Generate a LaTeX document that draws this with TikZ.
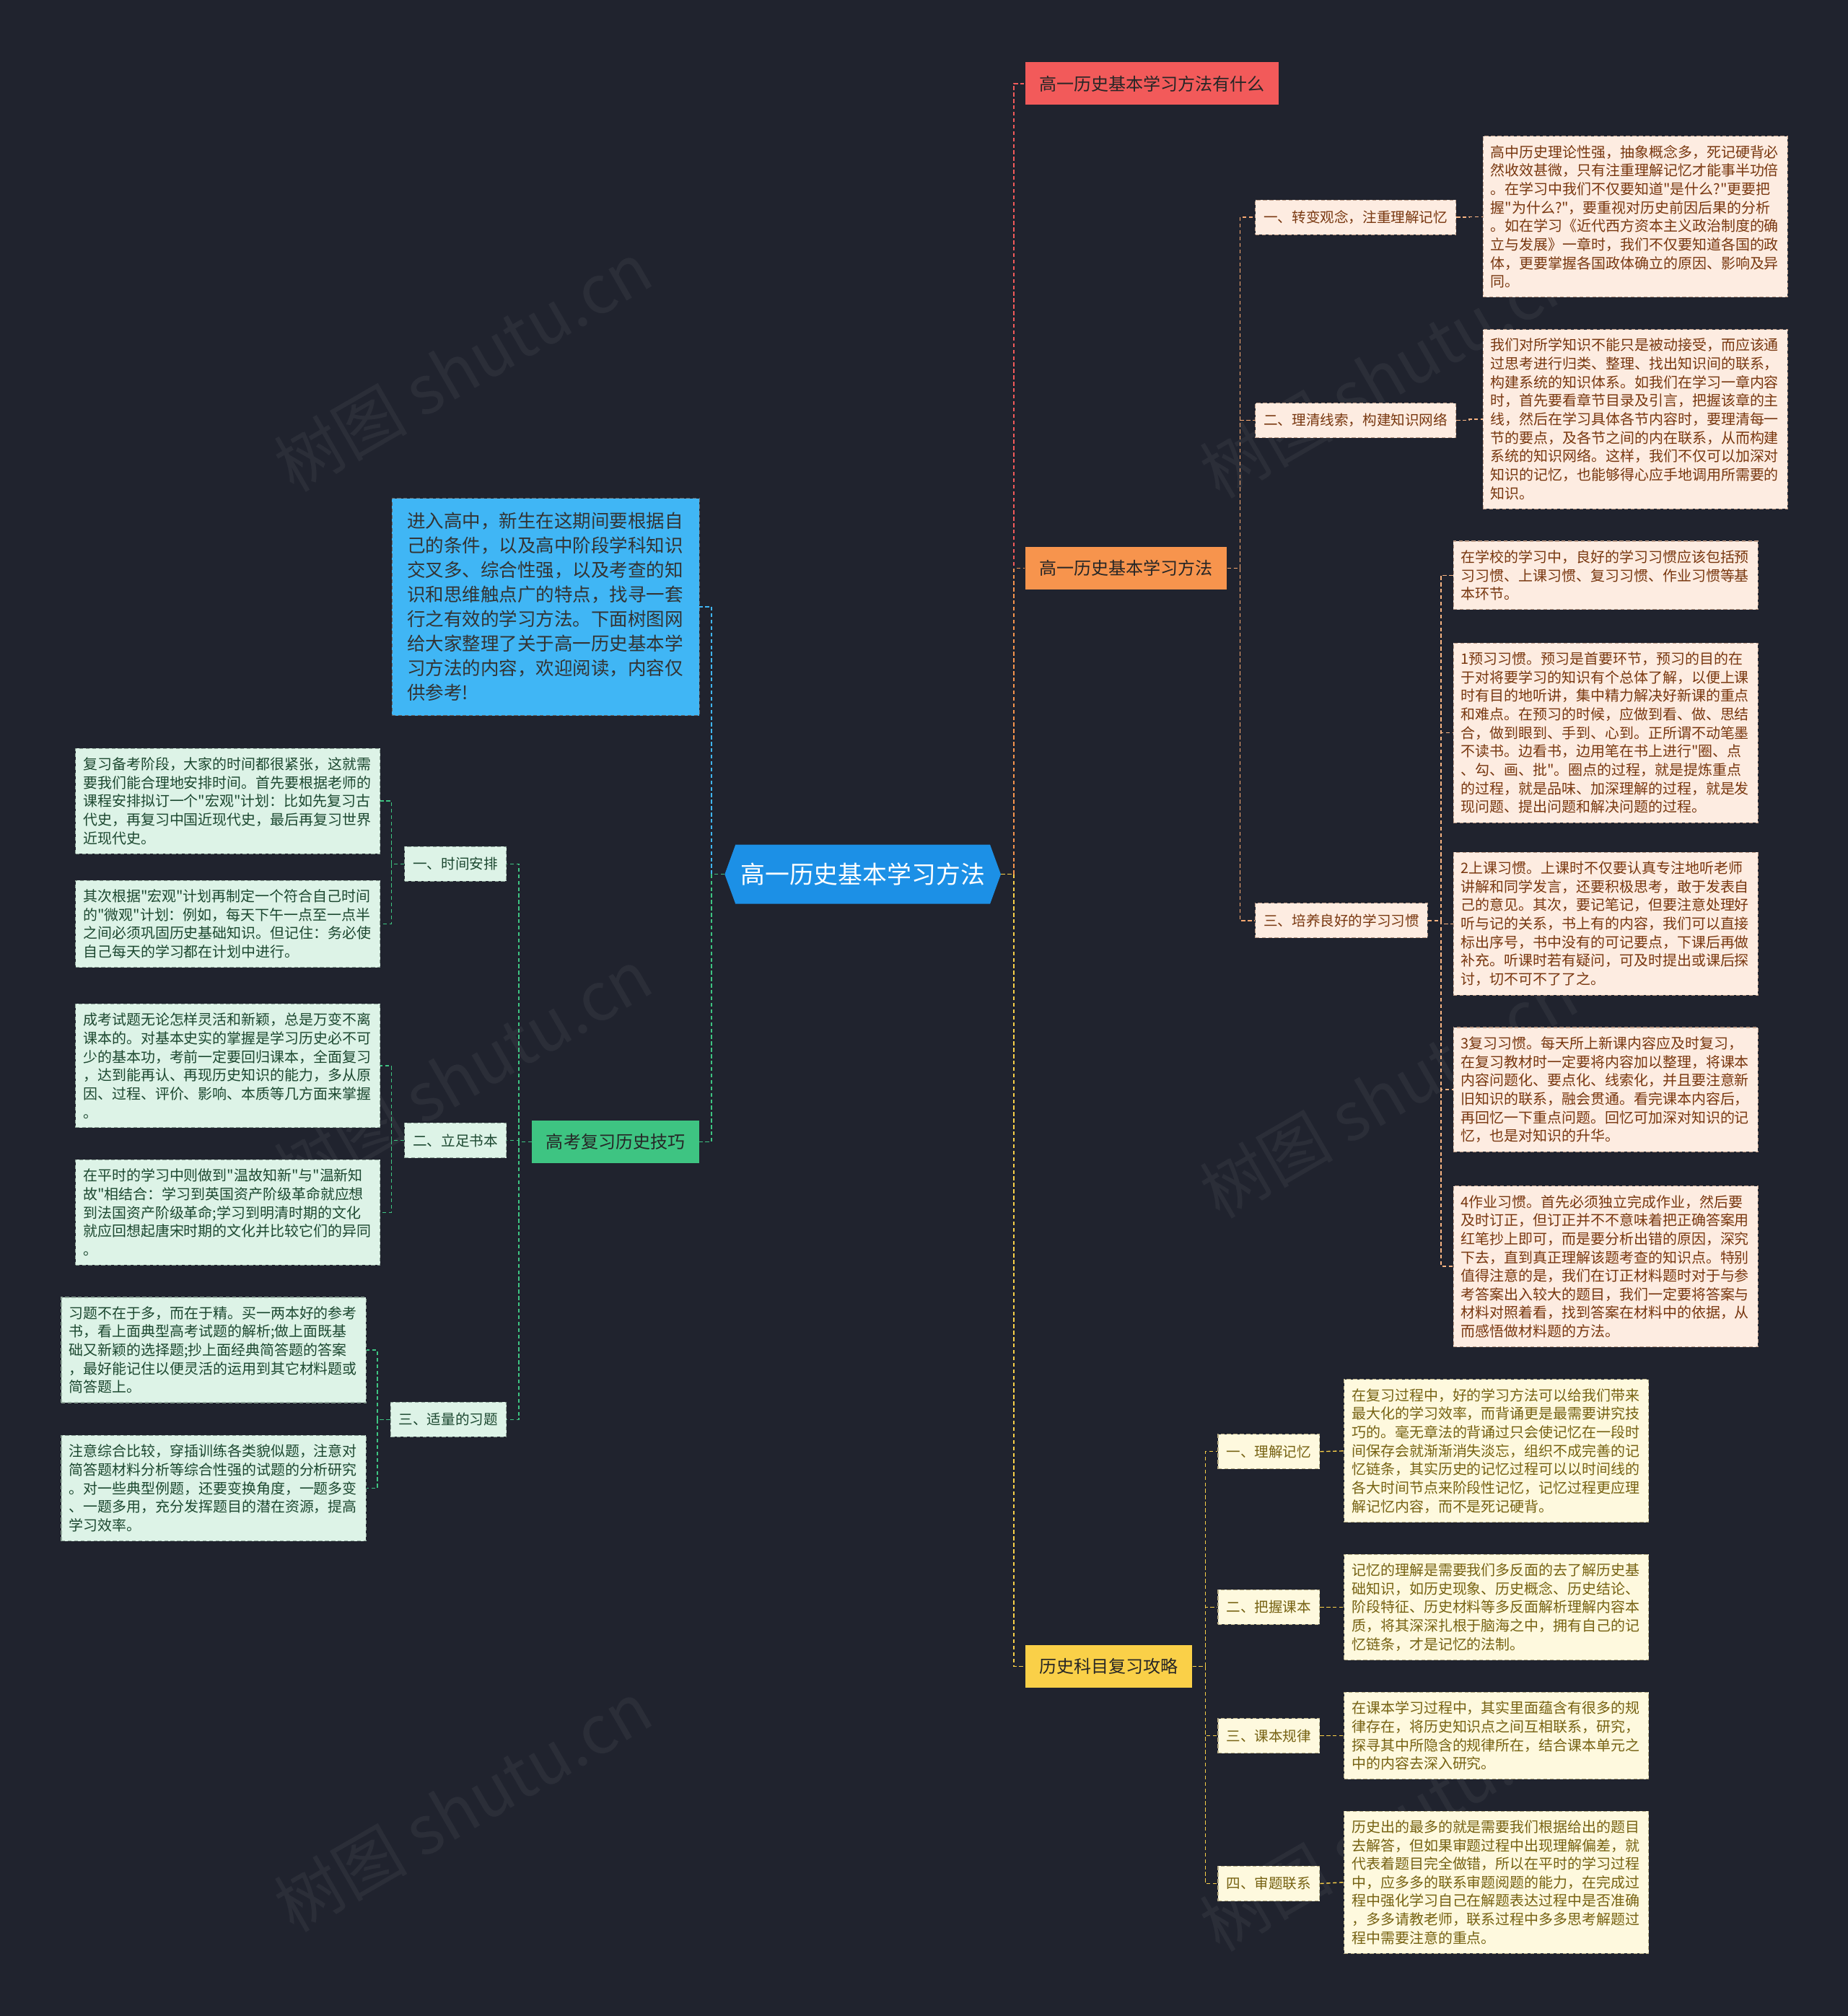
\documentclass[tikz,border=0pt]{standalone}
\usepackage{fontspec}
\setmainfont{Noto Sans CJK SC}[Ligatures=TeXOff]
\usepackage{xcolor}
\usetikzlibrary{shapes.symbols}
\definecolor{bgdark}{RGB}{32,35,46}
\definecolor{rootblue}{RGB}{28,144,230}
\definecolor{redmain}{RGB}{242,90,90}
\definecolor{orangemain}{RGB}{247,148,77}
\definecolor{yellowmain}{RGB}{250,208,72}
\definecolor{greenmain}{RGB}{62,196,130}
\definecolor{introblue}{RGB}{64,182,245}
\definecolor{peachfill}{RGB}{253,236,225}
\definecolor{peachtext}{RGB}{120,55,15}
\definecolor{creamfill}{RGB}{254,249,222}
\definecolor{creamtext}{RGB}{118,98,18}
\definecolor{mintfill}{RGB}{221,243,231}
\definecolor{minttext}{RGB}{28,72,48}

\begin{document}
\begin{tikzpicture}[x=1pt,y=-1pt,
  rootbox/.style={signal,signal to=west and east,signal pointer angle=140,fill=rootblue,
               text=white,minimum width=212pt,minimum height=46pt,inner xsep=4pt,
               font=\fontsize{19}{22}\selectfont},
  mainbox/.style={rectangle,minimum height=33pt,inner xsep=11pt,text=black!85,
               font=\fontsize{13.5}{16}\selectfont},
  subbox/.style={rectangle,minimum height=27pt,inner xsep=6.5pt,
               font=\fontsize{11}{13}\selectfont,draw,dash pattern=on 3pt off 2pt,line width=.6pt},
  leaf/.style={rectangle,text width=225pt,align=left,inner xsep=6pt,inner ysep=7pt,
               font=\fontsize{11.2}{14.4}\selectfont,draw,dash pattern=on 3pt off 2pt,line width=.6pt},
  peach/.style={fill=peachfill,text=peachtext,draw=peachtext!50},
  cream/.style={fill=creamfill,text=creamtext,draw=creamtext!50},
  mint/.style={fill=mintfill,text=minttext,draw=minttext!50},
  ln/.style={line width=.8pt,dash pattern=on 3pt off 2pt},
  wmark/.style={font=\fontsize{52}{52}\selectfont,text=white,opacity=.05,rotate=30}
]
\fill[bgdark] (0,0) rectangle (1437,1568);

% watermarks
\foreach \wx/\wy in {360/285,360/835,360/1405,1080/290,1080/850,1080/1420}
  \node[wmark] at (\wx,\wy) {树图 shutu.cn};

% centre
\node[rootbox] (root) at (671,680) {高一历史基本学习方法};

% main topics
\node[mainbox,fill=redmain,anchor=west] (q1) at (797,65) {高一历史基本学习方法有什么};
\node[mainbox,fill=orangemain,anchor=west] (q2) at (797,442) {高一历史基本学习方法};
\node[mainbox,fill=yellowmain,anchor=west] (q3) at (797,1296) {历史科目复习攻略};
\node[rectangle,fill=introblue,text=black!80,anchor=east,text width=215pt,align=left,
      inner xsep=12pt,inner ysep=11pt,draw=black!60,dash pattern=on 3pt off 2pt,
      font=\fontsize{14.3}{19.1}\selectfont] (intro) at (544,472)
  {进入高中，新生在这期间要根据自\\己的条件，以及高中阶段学科知识\\交叉多、综合性强，以及考查的知\\识和思维触点广的特点，找寻一套\\行之有效的学习方法。下面树图网\\给大家整理了关于高一历史基本学\\习方法的内容，欢迎阅读，内容仅\\供参考!};
\node[mainbox,fill=greenmain,anchor=east] (gn) at (544,888) {高考复习历史技巧};

\draw[ln,redmain] (root.east) -- ++(10,0) |- (q1.west);
\draw[ln,orangemain] (root.east) -- ++(10,0) |- (q2.west);
\draw[ln,yellowmain] (root.east) -- ++(10,0) |- (q3.west);
\draw[ln,introblue] (root.west) -- ++(-10,0) |- (intro.east);
\draw[ln,greenmain] (root.west) -- ++(-10,0) |- (gn.east);

% orange branch
\node[subbox,peach,anchor=west] (o1) at (976,169) {一、转变观念，注重理解记忆};
\node[subbox,peach,anchor=west] (o2) at (976,327) {二、理清线索，构建知识网络};
\node[subbox,peach,anchor=west] (o3) at (976,716) {三、培养良好的学习习惯};
\foreach \s in {o1,o2,o3}
  \draw[ln,orangemain!80] (q2.east) -- ++(10,0) |- (\s.west);

\node[leaf,peach,anchor=west] (o1a) at (1153,168.5)
  {高中历史理论性强，抽象概念多，死记硬背必\\然收效甚微，只有注重理解记忆才能事半功倍\\。在学习中我们不仅要知道"是什么?"更要把\\握"为什么?"，要重视对历史前因后果的分析\\。如在学习《近代西方资本主义政治制度的确\\立与发展》一章时，我们不仅要知道各国的政\\体，更要掌握各国政体确立的原因、影响及异\\同。};
\node[leaf,peach,anchor=west] (o2a) at (1153,326)
  {我们对所学知识不能只是被动接受，而应该通\\过思考进行归类、整理、找出知识间的联系，\\构建系统的知识体系。如我们在学习一章内容\\时，首先要看章节目录及引言，把握该章的主\\线，然后在学习具体各节内容时，要理清每一\\节的要点，及各节之间的内在联系，从而构建\\系统的知识网络。这样，我们不仅可以加深对\\知识的记忆，也能够得心应手地调用所需要的\\知识。};
\node[leaf,peach,anchor=west] (o3a) at (1130,447.5)
  {在学校的学习中，良好的学习习惯应该包括预\\习习惯、上课习惯、复习习惯、作业习惯等基\\本环节。};
\node[leaf,peach,anchor=west] (o3b) at (1130,570)
  {1预习习惯。预习是首要环节，预习的目的在\\于对将要学习的知识有个总体了解，以便上课\\时有目的地听讲，集中精力解决好新课的重点\\和难点。在预习的时候，应做到看、做、思结\\合，做到眼到、手到、心到。正所谓不动笔墨\\不读书。边看书，边用笔在书上进行"圈、点\\、勾、画、批"。圈点的过程，就是提炼重点\\的过程，就是品味、加深理解的过程，就是发\\现问题、提出问题和解决问题的过程。};
\node[leaf,peach,anchor=west] (o3c) at (1130,718.5)
  {2上课习惯。上课时不仅要认真专注地听老师\\讲解和同学发言，还要积极思考，敢于发表自\\己的意见。其次，要记笔记，但要注意处理好\\听与记的关系，书上有的内容，我们可以直接\\标出序号，书中没有的可记要点，下课后再做\\补充。听课时若有疑问，可及时提出或课后探\\讨，切不可不了了之。};
\node[leaf,peach,anchor=west] (o3d) at (1130,847.5)
  {3复习习惯。每天所上新课内容应及时复习，\\在复习教材时一定要将内容加以整理，将课本\\内容问题化、要点化、线索化，并且要注意新\\旧知识的联系，融会贯通。看完课本内容后，\\再回忆一下重点问题。回忆可加深对知识的记\\忆，也是对知识的升华。};
\node[leaf,peach,anchor=west] (o3e) at (1130,985)
  {4作业习惯。首先必须独立完成作业，然后要\\及时订正，但订正并不不意味着把正确答案用\\红笔抄上即可，而是要分析出错的原因，深究\\下去，直到真正理解该题考查的知识点。特别\\值得注意的是，我们在订正材料题时对于与参\\考答案出入较大的题目，我们一定要将答案与\\材料对照着看，找到答案在材料中的依据，从\\而感悟做材料题的方法。};
\draw[ln,orangemain!70] (o1.east) -- ++(10,0) |- (o1a.west);
\draw[ln,orangemain!70] (o2.east) -- ++(10,0) |- (o2a.west);
\foreach \s in {o3a,o3b,o3c,o3d,o3e}
  \draw[ln,orangemain!70] (o3.east) -- ++(10,0) |- (\s.west);

% yellow branch
\node[subbox,cream,anchor=west] (y1) at (947,1129) {一、理解记忆};
\node[subbox,cream,anchor=west] (y2) at (947,1250) {二、把握课本};
\node[subbox,cream,anchor=west] (y3) at (947,1350) {三、课本规律};
\node[subbox,cream,anchor=west] (y4) at (947,1465) {四、审题联系};
\foreach \s in {y1,y2,y3,y4}
  \draw[ln,yellowmain] (q3.east) -- ++(10,0) |- (\s.west);

\node[leaf,cream,anchor=west] (y1a) at (1045,1128.5)
  {在复习过程中，好的学习方法可以给我们带来\\最大化的学习效率，而背诵更是最需要讲究技\\巧的。毫无章法的背诵过只会使记忆在一段时\\间保存会就渐渐消失淡忘，组织不成完善的记\\忆链条，其实历史的记忆过程可以以时间线的\\各大时间节点来阶段性记忆，记忆过程更应理\\解记忆内容，而不是死记硬背。};
\node[leaf,cream,anchor=west] (y2a) at (1045,1250)
  {记忆的理解是需要我们多反面的去了解历史基\\础知识，如历史现象、历史概念、历史结论、\\阶段特征、历史材料等多反面解析理解内容本\\质，将其深深扎根于脑海之中，拥有自己的记\\忆链条，才是记忆的法制。};
\node[leaf,cream,anchor=west] (y3a) at (1045,1350)
  {在课本学习过程中，其实里面蕴含有很多的规\\律存在，将历史知识点之间互相联系，研究，\\探寻其中所隐含的规律所在，结合课本单元之\\中的内容去深入研究。};
\node[leaf,cream,anchor=west] (y4a) at (1045,1464)
  {历史出的最多的就是需要我们根据给出的题目\\去解答，但如果审题过程中出现理解偏差，就\\代表着题目完全做错，所以在平时的学习过程\\中，应多多的联系审题阅题的能力，在完成过\\程中强化学习自己在解题表达过程中是否准确\\，多多请教老师，联系过程中多多思考解题过\\程中需要注意的重点。};
\draw[ln,yellowmain] (y1.east) -- (y1a.west);
\draw[ln,yellowmain] (y2.east) -- (y2a.west);
\draw[ln,yellowmain] (y3.east) -- (y3a.west);
\draw[ln,yellowmain] (y4.east) -- (y4a.west);

% green branch
\node[subbox,mint,anchor=east] (g1) at (394,672) {一、时间安排};
\node[subbox,mint,anchor=east] (g2) at (394,887) {二、立足书本};
\node[subbox,mint,anchor=east] (g3) at (394,1104) {三、适量的习题};
\foreach \s in {g1,g2,g3}
  \draw[ln,greenmain] (gn.west) -- ++(-10,0) |- (\s.east);

\node[leaf,mint,anchor=east] (g1a) at (296,623)
  {复习备考阶段，大家的时间都很紧张，这就需\\要我们能合理地安排时间。首先要根据老师的\\课程安排拟订一个"宏观"计划：比如先复习古\\代史，再复习中国近现代史，最后再复习世界\\近现代史。};
\node[leaf,mint,anchor=east] (g1b) at (296,718.5)
  {其次根据"宏观"计划再制定一个符合自己时间\\的"微观"计划：例如，每天下午一点至一点半\\之间必须巩固历史基础知识。但记住：务必使\\自己每天的学习都在计划中进行。};
\node[leaf,mint,anchor=east] (g2a) at (296,829)
  {成考试题无论怎样灵活和新颖，总是万变不离\\课本的。对基本史实的掌握是学习历史必不可\\少的基本功，考前一定要回归课本，全面复习\\，达到能再认、再现历史知识的能力，多从原\\因、过程、评价、影响、本质等几方面来掌握\\。};
\node[leaf,mint,anchor=east] (g2b) at (296,943)
  {在平时的学习中则做到"温故知新"与"温新知\\故"相结合：学习到英国资产阶级革命就应想\\到法国资产阶级革命;学习到明清时期的文化\\就应回想起唐宋时期的文化并比较它们的异同\\。};
\node[leaf,mint,anchor=east] (g3a) at (285,1050)
  {习题不在于多，而在于精。买一两本好的参考\\书，看上面典型高考试题的解析;做上面既基\\础又新颖的选择题;抄上面经典简答题的答案\\，最好能记住以便灵活的运用到其它材料题或\\简答题上。};
\node[leaf,mint,anchor=east] (g3b) at (285,1157.5)
  {注意综合比较，穿插训练各类貌似题，注意对\\简答题材料分析等综合性强的试题的分析研究\\。对一些典型例题，还要变换角度，一题多变\\、一题多用，充分发挥题目的潜在资源，提高\\学习效率。};
\foreach \s in {g1a,g1b}
  \draw[ln,greenmain] (g1.west) -- ++(-10,0) |- (\s.east);
\foreach \s in {g2a,g2b}
  \draw[ln,greenmain] (g2.west) -- ++(-10,0) |- (\s.east);
\foreach \s in {g3a,g3b}
  \draw[ln,greenmain] (g3.west) -- ++(-10,0) |- (\s.east);
\end{tikzpicture}
\end{document}
